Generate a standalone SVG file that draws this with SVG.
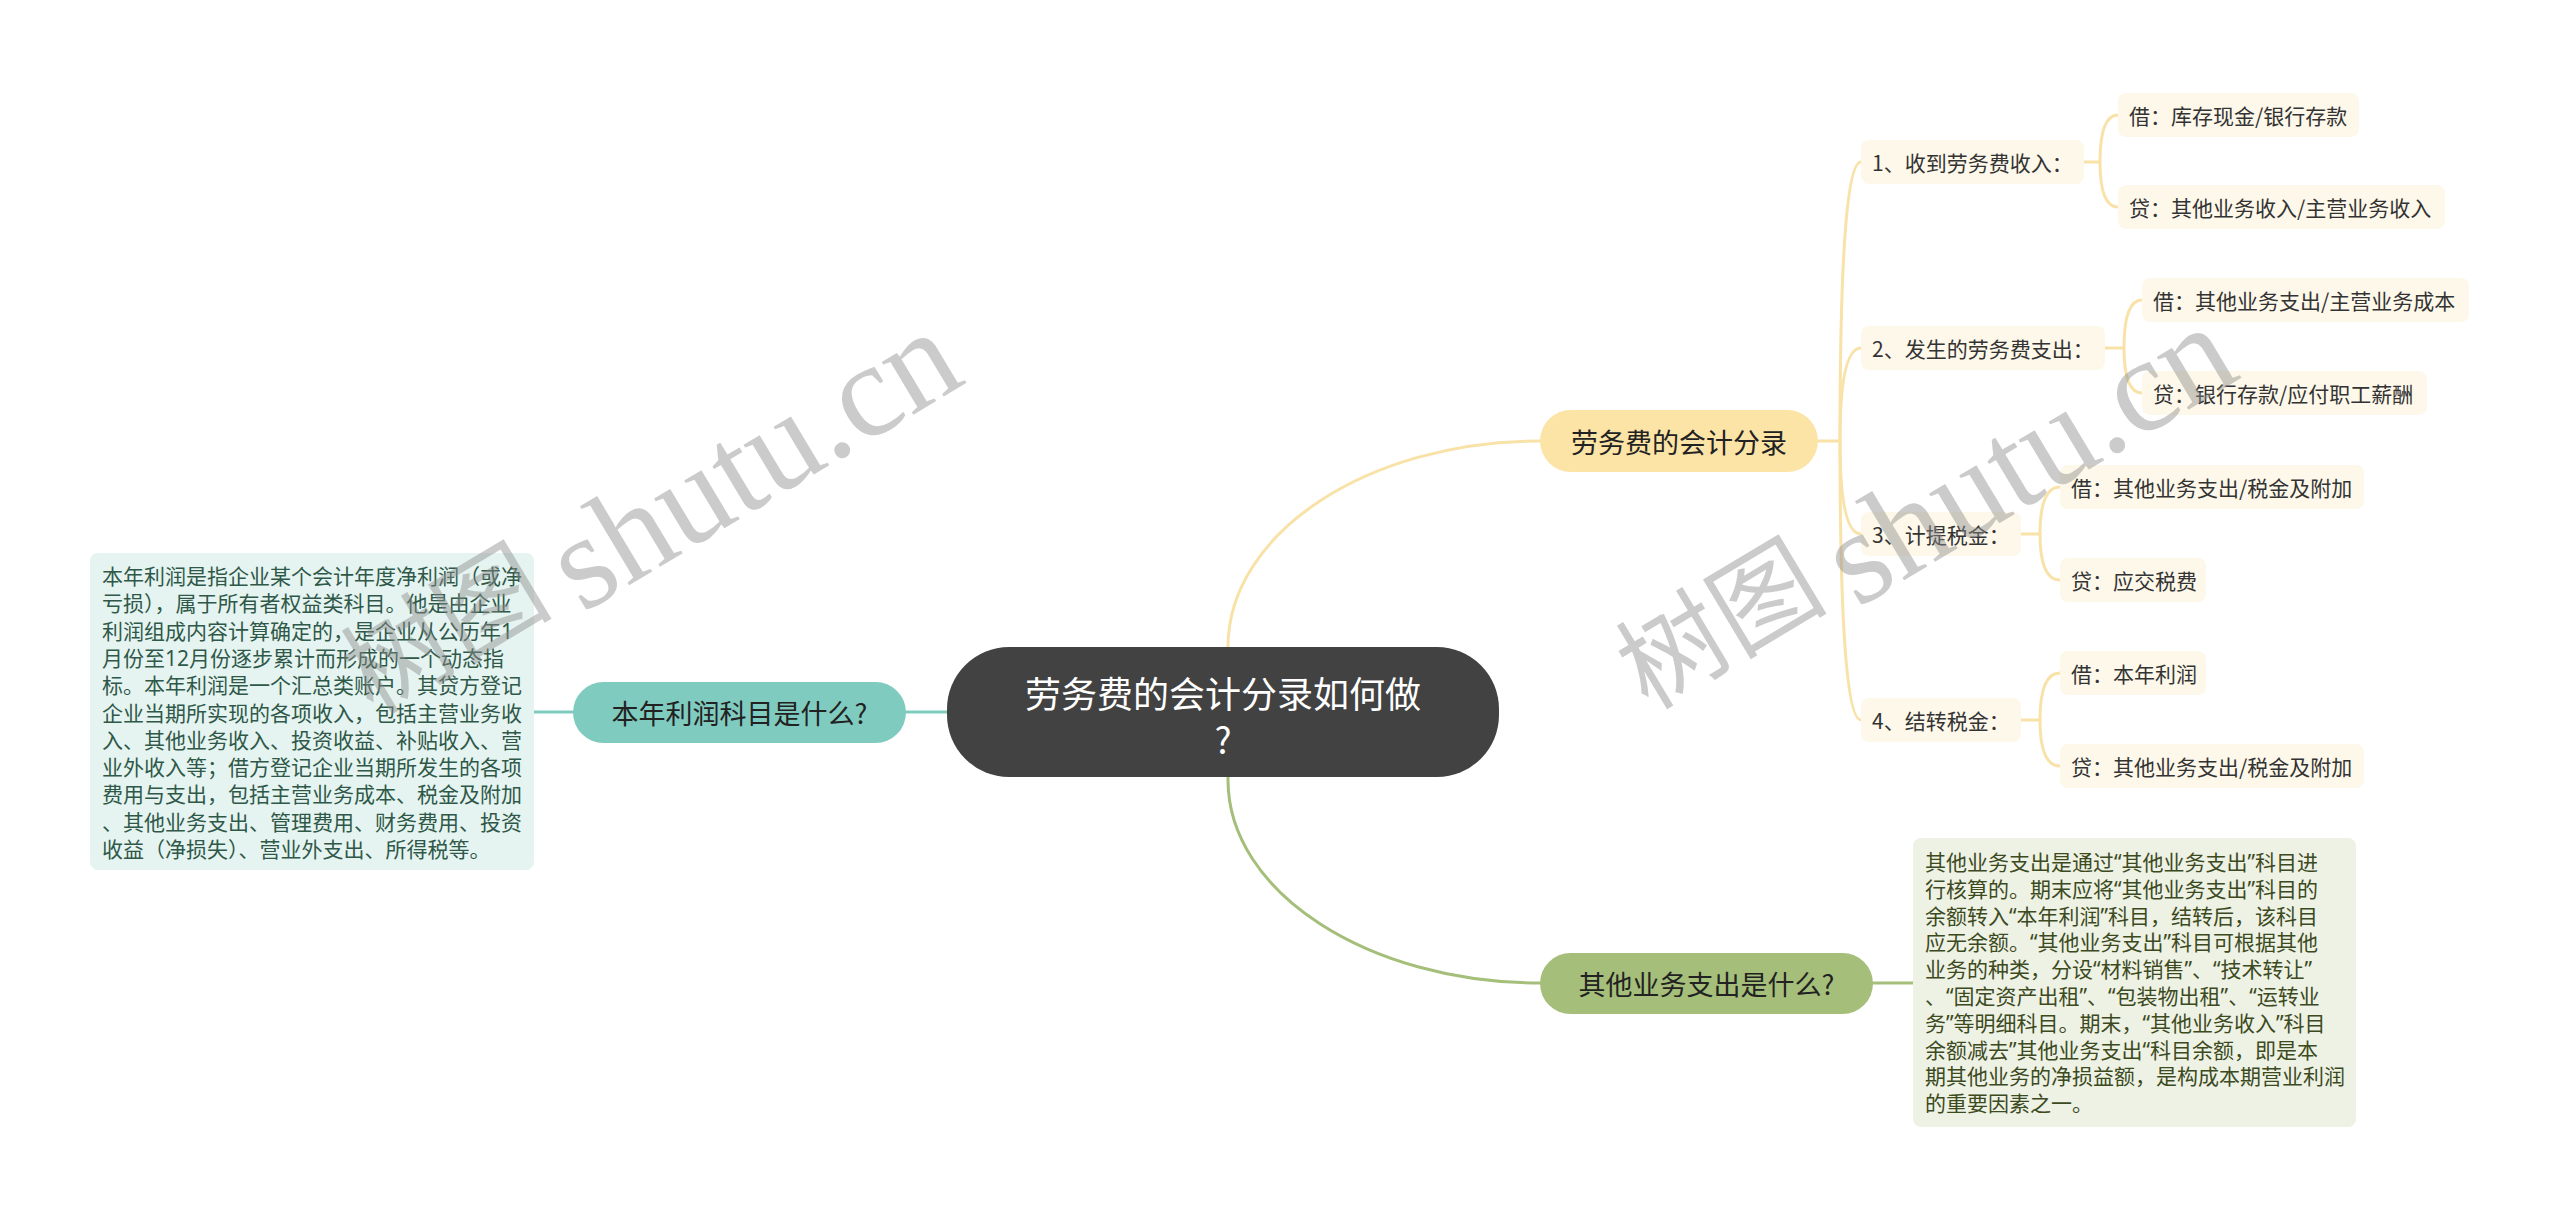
<svg xmlns="http://www.w3.org/2000/svg" width="2560" height="1220" viewBox="0 0 2560 1220">
<style>
text{font-family:"Noto Sans CJK SC","Noto Sans",sans-serif;dominant-baseline:central}
.c{fill:none;stroke-width:3;stroke-linecap:round}
.y{stroke:#f9e2a8}
.t{stroke:#80cbbf}
.g{stroke:#a5bf7a}
.leaf rect{fill:#fdf8ea}
.leaf text{font-size:21px;fill:#333}
.main text{font-size:27px;fill:#222;text-anchor:middle}
.body{font-size:21px;font-family:"Noto Sans","Noto Sans CJK SC",sans-serif}
.wm{fill:#8c8c8c;fill-opacity:.45;font-size:106px;dominant-baseline:alphabetic}
.wl{font-family:"Liberation Serif",serif;font-size:134px}
</style>
<rect width="2560" height="1220" fill="#ffffff"/>

<g id="connectors">
  <path class="c y" d="M1228 700 L1228 647 C1228 533 1368 441 1540 441"/>
  <path class="c g" d="M1228 740 L1228 780 C1228 892 1368 983 1540 983"/>
  <path class="c t" d="M947 712 L906 712"/>
  <path class="c t" d="M573 712 L534 712"/>
  <path class="c g" d="M1873 983 L1913 983"/>
  <path class="c y" d="M1818 441 L1840 441"/>
  <path class="c y" d="M1840 441 Q1840 162 1861 162"/>
  <path class="c y" d="M1840 441 Q1840 348 1861 348"/>
  <path class="c y" d="M1840 441 Q1840 534 1861 534"/>
  <path class="c y" d="M1840 441 Q1840 720 1861 720"/>
  <path class="c y" d="M2084 162 L2100 162 M2100 162 Q2100 115 2118 115 M2100 162 Q2100 207 2118 207"/>
  <path class="c y" d="M2105 348 L2124 348 M2124 348 Q2124 300 2142 300 M2124 348 Q2124 393 2142 393"/>
  <path class="c y" d="M2021 534 L2040 534 M2040 534 Q2040 487 2060 487 M2040 534 Q2040 580 2060 580"/>
  <path class="c y" d="M2021 720 L2040 720 M2040 720 Q2040 673 2060 673 M2040 720 Q2040 766 2060 766"/>
</g>

<g id="central">
  <rect x="947" y="647" width="552" height="130" rx="62" fill="#424242"/>
  <text x="1223" y="692" font-size="36" fill="#ffffff" text-anchor="middle">劳务费的会计分录如何做</text>
  <text x="1223" y="738" font-size="36" fill="#ffffff" text-anchor="middle">?</text>
</g>

<g id="node-profit" class="main">
  <rect x="573" y="682" width="333" height="61" rx="30.5" fill="#80cbbf"/>
  <text x="739.5" y="712.5">本年利润科目是什么?</text>
</g>
<g id="note-profit">
  <rect x="90" y="553" width="444" height="317" rx="8" fill="#e5f4f1"/>
  <text class="body" fill="#2f5848">
    <tspan x="102" y="576">本年利润是指企业某个会计年度净利润（或净</tspan>
    <tspan x="102" y="603.3">亏损），属于所有者权益类科目。他是由企业</tspan>
    <tspan x="102" y="630.6">利润组成内容计算确定的，是企业从公历年1</tspan>
    <tspan x="102" y="657.9">月份至12月份逐步累计而形成的一个动态指</tspan>
    <tspan x="102" y="685.2">标。本年利润是一个汇总类账户。其贷方登记</tspan>
    <tspan x="102" y="712.5">企业当期所实现的各项收入，包括主营业务收</tspan>
    <tspan x="102" y="739.8">入、其他业务收入、投资收益、补贴收入、营</tspan>
    <tspan x="102" y="767.1">业外收入等；借方登记企业当期所发生的各项</tspan>
    <tspan x="102" y="794.4">费用与支出，包括主营业务成本、税金及附加</tspan>
    <tspan x="102" y="821.7">、其他业务支出、管理费用、财务费用、投资</tspan>
    <tspan x="102" y="849">收益（净损失）、营业外支出、所得税等。</tspan>
  </text>
</g>

<g id="node-fee" class="main">
  <rect x="1540" y="410" width="278" height="62" rx="31" fill="#fce3a6"/>
  <text x="1679" y="441">劳务费的会计分录</text>
</g>

<g id="node-other" class="main">
  <rect x="1540" y="953" width="333" height="61" rx="30.5" fill="#a5bf7a"/>
  <text x="1706.5" y="983.5">其他业务支出是什么?</text>
</g>
<g id="note-other">
  <rect x="1913" y="838" width="443" height="289" rx="8" fill="#eef2e5"/>
  <text class="body" fill="#3c4a1e">
    <tspan x="1925" y="862">其他业务支出是通过“其他业务支出”科目进</tspan>
    <tspan x="1925" y="888.8">行核算的。期末应将“其他业务支出”科目的</tspan>
    <tspan x="1925" y="915.6">余额转入“本年利润”科目，结转后，该科目</tspan>
    <tspan x="1925" y="942.4">应无余额。“其他业务支出”科目可根据其他</tspan>
    <tspan x="1925" y="969.2">业务的种类，分设“材料销售”、“技术转让”</tspan>
    <tspan x="1925" y="996">、“固定资产出租”、“包装物出租”、“运转业</tspan>
    <tspan x="1925" y="1022.8">务”等明细科目。期末，“其他业务收入”科目</tspan>
    <tspan x="1925" y="1049.6">余额减去”其他业务支出“科目余额，即是本</tspan>
    <tspan x="1925" y="1076.4">期其他业务的净损益额，是构成本期营业利润</tspan>
    <tspan x="1925" y="1103.2">的重要因素之一。</tspan>
  </text>
</g>

<g id="step1" class="leaf"><rect x="1861" y="140" width="223" height="44" rx="8"/><text x="1872" y="162">1、收到劳务费收入：</text></g>
<g id="step2" class="leaf"><rect x="1861" y="326" width="244" height="44" rx="8"/><text x="1872" y="348">2、发生的劳务费支出：</text></g>
<g id="step3" class="leaf"><rect x="1861" y="512" width="160" height="44" rx="8"/><text x="1872" y="534">3、计提税金：</text></g>
<g id="step4" class="leaf"><rect x="1861" y="698" width="160" height="44" rx="8"/><text x="1872" y="720">4、结转税金：</text></g>

<g id="leaf1a" class="leaf"><rect x="2118" y="93" width="241" height="44" rx="8"/><text x="2129" y="115">借：库存现金/银行存款</text></g>
<g id="leaf1b" class="leaf"><rect x="2118" y="185" width="327" height="44" rx="8"/><text x="2129" y="207">贷：其他业务收入/主营业务收入</text></g>
<g id="leaf2a" class="leaf"><rect x="2142" y="278" width="327" height="44" rx="8"/><text x="2153" y="300">借：其他业务支出/主营业务成本</text></g>
<g id="leaf2b" class="leaf"><rect x="2142" y="371" width="285" height="44" rx="8"/><text x="2153" y="393">贷：银行存款/应付职工薪酬</text></g>
<g id="leaf3a" class="leaf"><rect x="2060" y="465" width="304" height="44" rx="8"/><text x="2071" y="487">借：其他业务支出/税金及附加</text></g>
<g id="leaf3b" class="leaf"><rect x="2060" y="558" width="146" height="44" rx="8"/><text x="2071" y="580">贷：应交税费</text></g>
<g id="leaf4a" class="leaf"><rect x="2060" y="651" width="146" height="44" rx="8"/><text x="2071" y="673">借：本年利润</text></g>
<g id="leaf4b" class="leaf"><rect x="2060" y="744" width="304" height="44" rx="8"/><text x="2071" y="766">贷：其他业务支出/税金及附加</text></g>

<g id="watermarks">
  <text class="wm" transform="translate(373 716) rotate(-31)"><tspan>树图</tspan><tspan class="wl" x="232" y="20">shutu.cn</tspan></text>
  <text class="wm" transform="translate(1648 711) rotate(-31)"><tspan>树图</tspan><tspan class="wl" x="232" y="20">shutu.cn</tspan></text>
</g>
</svg>
